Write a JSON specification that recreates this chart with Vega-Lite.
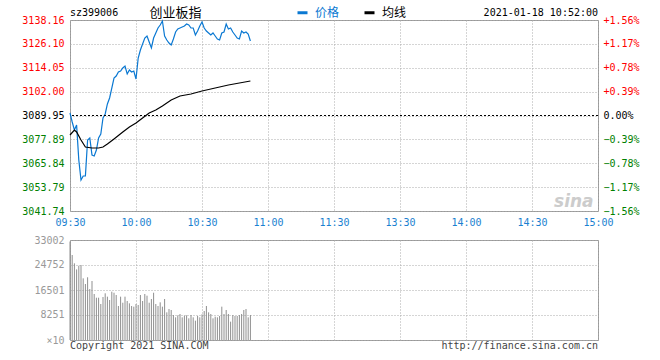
{
  "$schema": "https://vega.github.io/schema/vega-lite/v6.json",
  "padding": {"left": 21, "top": 6, "right": 5, "bottom": 5},
  "bounds": "flush",
  "spacing": 29,
  "config": {
    "view": {"stroke": "#999", "strokeWidth": 1},
    "font": "DejaVu Sans Mono",
    "axis": {"labelFont": "DejaVu Sans Mono", "labelFontSize": 10, "ticks": false, "domain": false, "gridColor": "#aaa", "gridDash": [1, 2], "gridOpacity": 1, "title": null, "labelOverlap": false, "labelFlush": false, "labelBound": false},
    "legend": {"orient": "none", "legendX": 226, "legendY": -14, "direction": "horizontal", "title": null, "symbolType": "stroke", "symbolStrokeWidth": 3, "symbolSize": 100, "labelFont": "Noto Sans CJK SC", "labelFontSize": 12, "columnPadding": 18, "labelOffset": 6}
  },
  "datasets": {
    "line": [
      {"m":0,"s":"价格","v":3091.21},{"m":1,"s":"价格","v":3086.67},{"m":2,"s":"价格","v":3082.63},{"m":3,"s":"价格","v":3085.16},{"m":4,"s":"价格","v":3067.49},{"m":5,"s":"价格","v":3057.39},{"m":6,"s":"价格","v":3059.41},{"m":7,"s":"价格","v":3059.41},{"m":8,"s":"价格","v":3077.58},{"m":9,"s":"价格","v":3078.59},
      {"m":10,"s":"价格","v":3070.01},{"m":11,"s":"价格","v":3069.51},{"m":12,"s":"价格","v":3072.54},{"m":13,"s":"价格","v":3078.59},{"m":14,"s":"价格","v":3080.61},{"m":15,"s":"价格","v":3088.69},{"m":16,"s":"价格","v":3090.71},{"m":17,"s":"价格","v":3095.76},{"m":18,"s":"价格","v":3098.79},{"m":19,"s":"价格","v":3103.83},
      {"m":20,"s":"价格","v":3108.88},{"m":21,"s":"价格","v":3109.89},{"m":22,"s":"价格","v":3111.91},{"m":23,"s":"价格","v":3112.42},{"m":24,"s":"价格","v":3113.93},{"m":25,"s":"价格","v":3114.94},{"m":26,"s":"价格","v":3110.90},{"m":27,"s":"价格","v":3112.92},{"m":28,"s":"价格","v":3111.91},{"m":29,"s":"价格","v":3112.42},
      {"m":30,"s":"价格","v":3108.38},{"m":31,"s":"价格","v":3118.98},{"m":32,"s":"价格","v":3123.02},{"m":33,"s":"价格","v":3126.04},{"m":34,"s":"价格","v":3129.07},{"m":35,"s":"价格","v":3130.08},{"m":36,"s":"价格","v":3127.05},{"m":37,"s":"价格","v":3124.03},{"m":38,"s":"价格","v":3129.07},{"m":39,"s":"价格","v":3131.60},
      {"m":40,"s":"价格","v":3134.12},{"m":41,"s":"价格","v":3135.64},{"m":42,"s":"价格","v":3137.66},{"m":43,"s":"价格","v":3130.08},{"m":44,"s":"价格","v":3128.06},{"m":45,"s":"价格","v":3126.55},{"m":46,"s":"价格","v":3125.54},{"m":47,"s":"价格","v":3128.57},{"m":48,"s":"价格","v":3132.10},{"m":49,"s":"价格","v":3133.62},
      {"m":50,"s":"价格","v":3134.12},{"m":51,"s":"价格","v":3134.63},{"m":52,"s":"价格","v":3135.13},{"m":53,"s":"价格","v":3136.14},{"m":54,"s":"价格","v":3135.64},{"m":55,"s":"价格","v":3134.12},{"m":56,"s":"价格","v":3134.12},{"m":57,"s":"价格","v":3130.59},{"m":58,"s":"价格","v":3132.61},{"m":59,"s":"价格","v":3135.13},
      {"m":60,"s":"价格","v":3137.15},{"m":61,"s":"价格","v":3134.12},{"m":62,"s":"价格","v":3132.61},{"m":63,"s":"价格","v":3131.60},{"m":64,"s":"价格","v":3130.59},{"m":65,"s":"价格","v":3131.60},{"m":66,"s":"价格","v":3130.08},{"m":67,"s":"价格","v":3128.57},{"m":68,"s":"价格","v":3128.06},{"m":69,"s":"价格","v":3131.60},
      {"m":70,"s":"价格","v":3132.10},{"m":71,"s":"价格","v":3136.14},{"m":72,"s":"价格","v":3133.62},{"m":73,"s":"价格","v":3134.12},{"m":74,"s":"价格","v":3132.10},{"m":75,"s":"价格","v":3130.59},{"m":76,"s":"价格","v":3129.07},{"m":77,"s":"价格","v":3128.57},{"m":78,"s":"价格","v":3132.61},{"m":79,"s":"价格","v":3131.60},
      {"m":80,"s":"价格","v":3132.10},{"m":81,"s":"价格","v":3131.09},{"m":82,"s":"价格","v":3127.56},
      {"m":0,"s":"均线","v":3080.11},{"m":2,"s":"均线","v":3082.63},{"m":3,"s":"均线","v":3081.62},{"m":5,"s":"均线","v":3077.58},{"m":7,"s":"均线","v":3074.05},{"m":10,"s":"均线","v":3073.55},{"m":13,"s":"均线","v":3073.55},{"m":15,"s":"均线","v":3074.05},{"m":17,"s":"均线","v":3075.56},{"m":20,"s":"均线","v":3078.09},
      {"m":24,"s":"均线","v":3081.62},{"m":27,"s":"均线","v":3084.15},{"m":30,"s":"均线","v":3086.16},{"m":33,"s":"均线","v":3088.69},{"m":36,"s":"均线","v":3091.21},{"m":39,"s":"均线","v":3092.73},{"m":42,"s":"均线","v":3094.75},{"m":46,"s":"均线","v":3097.78},{"m":50,"s":"均线","v":3099.80},{"m":55,"s":"均线","v":3100.80},
      {"m":60,"s":"均线","v":3102.32},{"m":66,"s":"均线","v":3103.83},{"m":72,"s":"均线","v":3105.35},{"m":82,"s":"均线","v":3107.37}
    ],
    "vol": [
      {"m":0,"v":32500},{"m":1,"v":28050},{"m":2,"v":25300},{"m":3,"v":23300},{"m":4,"v":24500},{"m":5,"v":24750},{"m":6,"v":20350},{"m":7,"v":18480},{"m":8,"v":20700},{"m":9,"v":16830},
      {"m":10,"v":19470},{"m":11,"v":15180},{"m":12,"v":13960},{"m":13,"v":13960},{"m":14,"v":11880},{"m":15,"v":14190},{"m":16,"v":15410},{"m":17,"v":14300},{"m":18,"v":13200},{"m":19,"v":15950},
      {"m":20,"v":15600},{"m":21,"v":14850},{"m":22,"v":11220},{"m":23,"v":14300},{"m":24,"v":12300},{"m":25,"v":14300},{"m":26,"v":12870},{"m":27,"v":12100},{"m":28,"v":11220},{"m":29,"v":11000},
      {"m":30,"v":11880},{"m":31,"v":11550},{"m":32,"v":14850},{"m":33,"v":12870},{"m":34,"v":15180},{"m":35,"v":14630},{"m":36,"v":12300},{"m":37,"v":13530},{"m":38,"v":15600},{"m":39,"v":11880},
      {"m":40,"v":11220},{"m":41,"v":12430},{"m":42,"v":11000},{"m":43,"v":13530},{"m":44,"v":9130},{"m":45,"v":10230},{"m":46,"v":9900},{"m":47,"v":8250},{"m":48,"v":7480},{"m":49,"v":8140},
      {"m":50,"v":8580},{"m":51,"v":7480},{"m":52,"v":8030},{"m":53,"v":8140},{"m":54,"v":7150},{"m":55,"v":8250},{"m":56,"v":7480},{"m":57,"v":6380},{"m":58,"v":7920},{"m":59,"v":7480},
      {"m":60,"v":8470},{"m":61,"v":9570},{"m":62,"v":11220},{"m":63,"v":9130},{"m":64,"v":8580},{"m":65,"v":7150},{"m":66,"v":7700},{"m":67,"v":7480},{"m":68,"v":7920},{"m":69,"v":11000},
      {"m":70,"v":8580},{"m":71,"v":9900},{"m":72,"v":8580},{"m":73,"v":6050},{"m":74,"v":8250},{"m":75,"v":7920},{"m":76,"v":7920},{"m":77,"v":8250},{"m":78,"v":8580},{"m":79,"v":9900},
      {"m":80,"v":10230},{"m":81,"v":7480},{"m":82,"v":8250}
    ]
  },
  "vconcat": [
    {
      "width": 528,
      "height": 191,
      "layer": [
        {
          "layer": [
            {
              "data": {"name": "line"},
              "mark": {"type": "line", "strokeWidth": 1.2},
              "encoding": {
                "x": {"field": "m", "type": "quantitative", "scale": {"domain": [0, 240], "nice": false, "zero": false},
                  "axis": {"values": [0, 30, 60, 90, 120, 150, 180, 210, 240], "tickCount": 20, "labelExpr": "['09:30','10:00','10:30','11:00','11:30','13:30','14:00','14:30','15:00'][round(datum.value/30)]", "labelColor": "#1a7fd0", "labelPadding": 6, "grid": true, "labelOverlap": false}},
                "y": {"field": "v", "type": "quantitative", "scale": {"domain": [3041.74, 3138.16], "nice": false, "zero": false},
                  "axis": {"orient": "left", "values": [3041.74, 3053.79, 3065.84, 3077.89, 3089.95, 3102.00, 3114.05, 3126.10, 3138.16], "tickCount": 20, "format": ".2f", "labelPadding": 6, "grid": true, "labelOverlap": false,
                    "labelColor": {"expr": "datum.value > 3090.5 ? '#ff0000' : (datum.value < 3089.5 ? '#008000' : '#000000')"}}},
                "color": {"field": "s", "type": "nominal", "scale": {"domain": ["价格", "均线"], "range": ["#0a78d2", "#000000"]},
                  "legend": {"labelColor": {"expr": "datum.label == '价格' ? '#0a78d2' : '#000000'"}}}
              }
            },
            {
              "data": {"values": [{"t": "sz399006"}]},
              "mark": {"type": "text", "align": "left", "baseline": "middle", "fontSize": 10, "font": "DejaVu Sans Mono", "color": "#000"},
              "encoding": {"x": {"datum": 0, "type": "quantitative"}, "y": {"datum": 3141.7, "type": "quantitative"}, "text": {"field": "t"}}
            },
            {
              "data": {"values": [{"t": "创业板指"}]},
              "mark": {"type": "text", "align": "center", "baseline": "middle", "fontSize": 13, "font": "Noto Sans CJK SC", "color": "#000"},
              "encoding": {"x": {"datum": 48, "type": "quantitative"}, "y": {"datum": 3141.7, "type": "quantitative"}, "text": {"field": "t"}}
            },
            {
              "data": {"values": [{"t": "2021-01-18 10:52:00"}]},
              "mark": {"type": "text", "align": "right", "baseline": "middle", "fontSize": 10, "font": "DejaVu Sans Mono", "color": "#000"},
              "encoding": {"x": {"datum": 240, "type": "quantitative"}, "y": {"datum": 3141.7, "type": "quantitative"}, "text": {"field": "t"}}
            },
            {
              "data": {"values": [{"t": "sina"}]},
              "mark": {"type": "text", "align": "center", "baseline": "middle", "fontSize": 17, "fontStyle": "italic", "fontWeight": "bold", "font": "DejaVu Sans", "color": "#cccccc"},
              "encoding": {"x": {"datum": 229, "type": "quantitative"}, "y": {"datum": 3046.5, "type": "quantitative"}, "text": {"field": "t"}}
            }
          ]
        },
        {
          "data": {"values": [{}]},
          "mark": {"type": "rule", "color": "#000000", "strokeDash": [2, 2], "strokeWidth": 1},
          "encoding": {
            "y": {"datum": 3089.95, "type": "quantitative", "scale": {"domain": [3041.74, 3138.16], "nice": false, "zero": false},
              "axis": {"orient": "right", "values": [3041.74, 3053.79, 3065.84, 3077.89, 3089.95, 3102.00, 3114.05, 3126.10, 3138.16], "tickCount": 20, "grid": false, "labelPadding": 5, "labelOverlap": false,
                "labelExpr": "datum.value > 3090.5 ? '+' + format((datum.value/3089.95-1)*100, '.2f') + '%' : (datum.value < 3089.5 ? format((datum.value/3089.95-1)*100, '.2f') + '%' : '0.00%')",
                "labelColor": {"expr": "datum.value > 3090.5 ? '#ff0000' : (datum.value < 3089.5 ? '#008000' : '#000000')"}}}
          }
        }
      ],
      "resolve": {"scale": {"y": "independent"}}
    },
    {
      "width": 528,
      "height": 100,
      "layer": [
        {
          "data": {"name": "vol"},
          "mark": {"type": "rule", "color": "#8f8f8f", "strokeWidth": 1},
          "encoding": {
            "x": {"field": "m", "type": "quantitative", "scale": {"domain": [0, 240], "nice": false, "zero": false},
              "axis": {"values": [0, 30, 60, 90, 120, 150, 180, 210, 240], "tickCount": 20, "labels": false, "grid": true}},
            "y": {"field": "v", "type": "quantitative", "scale": {"domain": [0, 33002], "nice": false},
              "axis": {"values": [0, 8251, 16501, 24752, 33002], "tickCount": 20, "format": "d", "labelExpr": "datum.value == 0 ? '×10' : datum.label", "labelColor": "#999999", "labelPadding": 6, "grid": true, "labelOverlap": false}},
            "y2": {"datum": 0}
          }
        },
        {
          "data": {"values": [{"t": "Copyright 2021 SINA.COM"}]},
          "mark": {"type": "text", "align": "left", "baseline": "middle", "fontSize": 10, "font": "DejaVu Sans Mono", "color": "#444444"},
          "encoding": {"x": {"datum": 0, "type": "quantitative"}, "y": {"datum": -1950, "type": "quantitative"}, "text": {"field": "t"}}
        },
        {
          "data": {"values": [{"t": "http://finance.sina.com.cn"}]},
          "mark": {"type": "text", "align": "right", "baseline": "middle", "fontSize": 10, "font": "DejaVu Sans Mono", "color": "#444444"},
          "encoding": {"x": {"datum": 240, "type": "quantitative"}, "y": {"datum": -1950, "type": "quantitative"}, "text": {"field": "t"}}
        }
      ]
    }
  ]
}
